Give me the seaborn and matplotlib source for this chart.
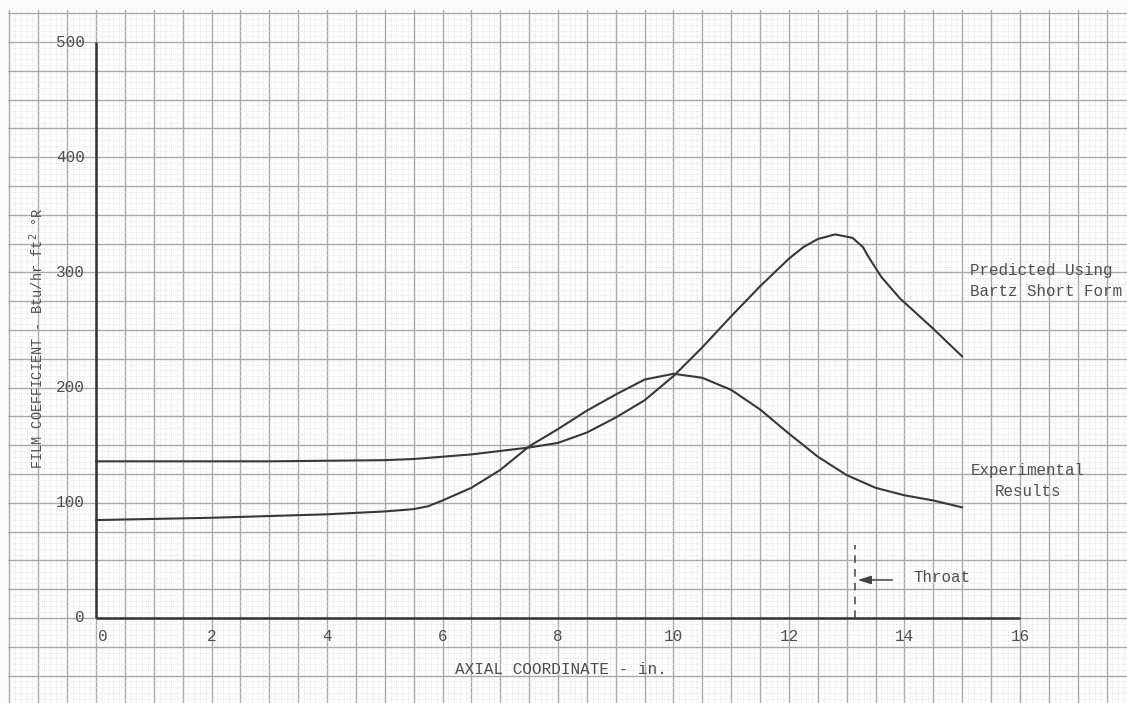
import numpy as np
import pandas as pd
import matplotlib
matplotlib.use("Agg")
import matplotlib.pyplot as plt
from matplotlib.ticker import MultipleLocator
import seaborn as sns

# Axial coordinate (in.) and film coefficient (Btu/hr ft^2 °R)
predicted_x = [0, 1, 2, 3, 4, 5, 5.5, 6, 6.5, 7, 7.5, 8, 8.5, 9, 9.5, 10, 10.5,
               11, 11.5, 12, 12.25, 12.5, 12.8, 13.1, 13.28, 13.37, 13.6, 13.92,
               14.5, 15]
predicted_y = [136, 136, 136, 136, 136.5, 137, 138, 140, 142, 145, 148, 152,
               161, 174, 189, 210, 235, 262, 288, 312, 322, 329, 333, 330, 322,
               314, 296, 277.5, 251, 227]

experimental_x = [0, 1, 2, 3, 4, 5, 5.5, 5.75, 6, 6.5, 7, 7.5, 8, 8.5, 9, 9.5, 10,
                  10.5, 11, 11.5, 12, 12.5, 13, 13.5, 14, 14.5, 15]
experimental_y = [85, 86, 87, 88.5, 90, 92.5, 94.5, 97, 102, 113, 128.5, 149, 164,
                  180, 194, 207, 212, 208.5, 198, 181, 160, 140, 124, 113, 106.5,
                  102, 96]

x_ticks = [0, 2, 4, 6, 8, 10, 12, 14, 16]
y_ticks = [0, 100, 200, 300, 400, 500]
throat_x = 13.14

pred = pd.DataFrame({"x": predicted_x, "h": predicted_y, "series": "Predicted"})
expt = pd.DataFrame({"x": experimental_x, "h": experimental_y, "series": "Experimental"})
df = pd.concat([pred, expt], ignore_index=True)

sns.set_style("white")
plt.rcParams["font.family"] = ["Liberation Mono", "DejaVu Sans Mono"]

W, H = 1127, 703
fig = plt.figure(figsize=(W / 100, H / 100), dpi=100)
fig.patch.set_facecolor("#fbfbfb")
ax = fig.add_axes([8 / W, 0, 1 - 8 / W, 1 - 10 / H])
ax.set_facecolor("#fefefe")
ax.set_xlim(-1.524, 17.853)
ax.set_ylim(-73.8, 527.8)

# graph-paper ruling
ax.xaxis.set_major_locator(MultipleLocator(0.5))
ax.xaxis.set_minor_locator(MultipleLocator(0.1))
ax.yaxis.set_major_locator(MultipleLocator(25))
ax.yaxis.set_minor_locator(MultipleLocator(5))
ax.grid(which="major", color="#a9a9a9", lw=1.0)
ax.grid(which="minor", color="#e0e0e0", lw=0.5, ls=(0, (1.5, 1.5)))
ax.set_axisbelow(True)
ax.tick_params(which="both", length=0, labelbottom=False, labelleft=False)
for s in ax.spines.values():
    s.set_visible(False)

# drawn axes
ax.hlines(0, x_ticks[0], x_ticks[-1], color="#333333", lw=1.8, zorder=3)
ax.vlines(0, y_ticks[0], y_ticks[-1], color="#333333", lw=1.8, zorder=3)

sns.lineplot(data=df, x="x", y="h", units="series", estimator=None, sort=False,
             color="#383838", lw=1.5, ax=ax, legend=False, zorder=4)
ax.set_xlabel("")
ax.set_ylabel("")

txt = "#4f4f4f"
for v in x_ticks:
    ax.text(v + (0.12 if v == 0 else 0), -16, f"{v}", ha="center", va="center",
            fontsize=11.5, color=txt)
for v in y_ticks:
    ax.text(-0.19, v, f"{v}", ha="right", va="center", fontsize=11.5, color=txt)

ax.text(8.05, -45, "AXIAL COORDINATE - in.", ha="center", va="center",
        fontsize=11.5, color=txt)
ax.text(-1.03, 243, "FILM COEFFICIENT - Btu/hr ft$^2$ °R", rotation=90,
        ha="center", va="center", fontsize=9.8, color=txt)

ax.text(15.13, 292.5, "Predicted Using\nBartz Short Form", ha="left", va="center",
        fontsize=11.4, color=txt, linespacing=1.5)
ax.text(16.14, 119, "Experimental\nResults", ha="center", va="center",
        fontsize=11.4, color=txt, linespacing=1.5)

# throat marker
ax.vlines(throat_x, 0, 63, color="#444444", lw=1.1, linestyles=(0, (5, 4)), zorder=3)
ax.annotate("", xy=(throat_x, 33), xytext=(throat_x + 0.7, 33),
            arrowprops=dict(arrowstyle="-|>,head_length=0.8,head_width=0.25",
                            color="#444444", lw=1.1))
ax.text(14.15, 35, "Throat", ha="left", va="center", fontsize=11.4, color=txt)

fig.savefig("out.png", dpi=100, facecolor=fig.get_facecolor())
